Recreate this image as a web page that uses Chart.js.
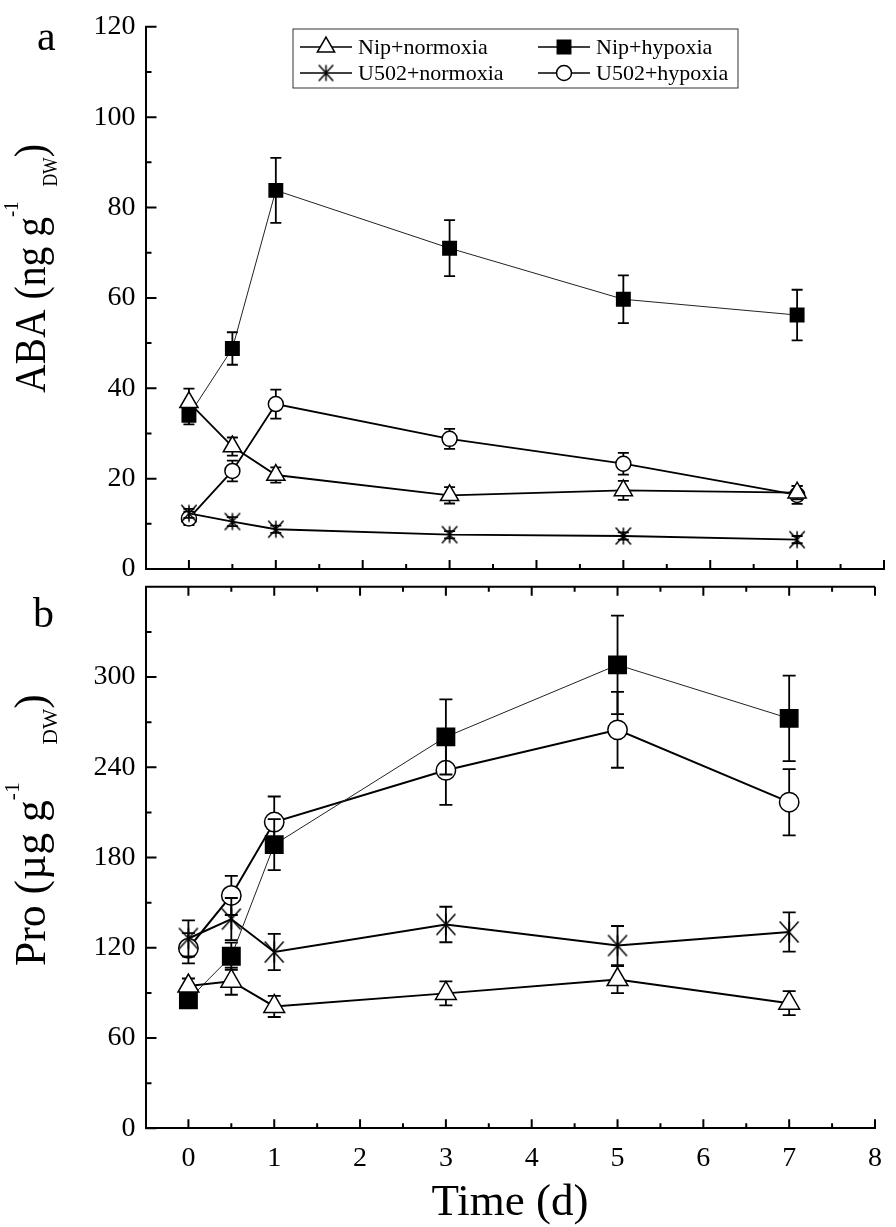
<!DOCTYPE html>
<html>
<head>
<meta charset="utf-8">
<script src="https://cdn.jsdelivr.net/npm/chart.js@4.4.1/dist/chart.umd.min.js"></script>
<style>
  html, body { margin: 0; padding: 0; background: #fff; }
  #wrap { position: relative; width: 896px; height: 1227px; overflow: hidden; }
  canvas { position: absolute; left: 0; }
  #abaChart { top: 0; }
  #proChart { top: 560px; }
</style>
</head>
<body>
<div id="wrap">
  <canvas id="abaChart" width="896" height="600"></canvas>
  <canvas id="proChart" width="896" height="667"></canvas>
</div>
<script>
// sampling days
const days = [0, 0.5, 1, 3, 5, 7];
const seriesNames = ["Nip+normoxia", "Nip+hypoxia", "U502+normoxia", "U502+hypoxia"];

// panel a : ABA (ng g-1 DW), mean and error
const abaNipNorm = [36.9, 27.1, 20.8, 16.3, 17.4, 16.9];
const abaNipNormErr = [3.0, 2.0, 1.7, 1.8, 2.1, 1.5];
const abaNipHyp = [34.0, 48.8, 83.8, 71.0, 59.7, 56.2];
const abaNipHypErr = [2.0, 3.6, 7.2, 6.2, 5.3, 5.6];
const abaU502Norm = [12.3, 10.5, 8.8, 7.6, 7.3, 6.5];
const abaU502NormErr = [1.0, 1.0, 0.8, 0.8, 0.8, 0.8];
const abaU502Hyp = [11.2, 21.7, 36.5, 28.8, 23.3, 16.4];
const abaU502HypErr = [1.5, 2.3, 3.2, 2.2, 2.4, 2.0];

// panel b : Pro (ug g-1 DW)
const proNipNorm = [94.6, 97.8, 81.0, 89.7, 98.9, 83.2];
const proNipNormErr = [5, 9, 7, 8, 9, 8];
const proNipHyp = [85.5, 114.4, 188.6, 260.2, 308.1, 272.5];
const proNipHypErr = [4, 9, 17, 25, 32.7, 28.4];
const proU502Norm = [126.2, 139.1, 117.2, 135.5, 121.5, 130.5];
const proU502NormErr = [12, 14, 12, 11.8, 13, 13];
const proU502Hyp = [119.7, 154.8, 203.6, 238.0, 264.9, 216.8];
const proU502HypErr = [10, 13, 17, 23, 25.2, 22];

// axes
const xTickLabels = [0, 1, 2, 3, 4, 5, 6, 7, 8];
const xMinorTicks = [0.5, 1.5, 2.5, 3.5, 4.5, 5.5, 6.5, 7.5];
const abaTickLabels = [0, 20, 40, 60, 80, 100, 120];
const abaMinorTicks = [10, 30, 50, 70, 90, 110];
const proTickLabels = [0, 60, 120, 180, 240, 300];
const proMinorTicks = [30, 90, 150, 210, 270, 330];

const FONT = "'Liberation Serif', 'Times New Roman', serif";

// 6-arm asterisk marker (no horizontal arm)
function makeAsterisk(half, lw) {
  const size = Math.ceil(half * 2 + lw * 2);
  const c = document.createElement("canvas");
  c.width = size; c.height = size;
  const g = c.getContext("2d");
  const m = size / 2;
  g.strokeStyle = "#000";
  g.lineWidth = lw;
  g.beginPath();
  g.moveTo(m, m - half); g.lineTo(m, m + half);
  g.moveTo(m - half * 0.9, m - half); g.lineTo(m + half * 0.9, m + half);
  g.moveTo(m - half * 0.9, m + half); g.lineTo(m + half * 0.9, m - half);
  g.stroke();
  return c;
}

function makeDataset(label, ys, errs, style, radius, fill, lineWidth) {
  return {
    label,
    data: days.map((d, i) => ({ x: d, y: ys[i] })),
    errors: errs,
    borderColor: lineWidth < 1.5 ? "#222" : "#000",
    borderWidth: lineWidth,
    pointStyle: style,
    pointRadius: radius,
    pointHoverRadius: radius,
    pointBackgroundColor: fill,
    pointBorderColor: "#000",
    pointBorderWidth: 1.5,
    tension: 0,
    fill: false
  };
}

// error bars drawn just before each dataset
const errorBars = {
  id: "errorBars",
  beforeDatasetDraw(chart, args, opts) {
    const ds = chart.data.datasets[args.index];
    if (!ds.errors) return;
    const xs = chart.scales.x, ys = chart.scales.y, ctx = chart.ctx;
    ctx.save();
    ctx.strokeStyle = "#000";
    ctx.lineWidth = opts.width;
    ds.data.forEach((p, i) => {
      const e = ds.errors[i];
      const px = xs.getPixelForValue(p.x);
      const t = ys.getPixelForValue(p.y + e);
      const b = ys.getPixelForValue(p.y - e);
      ctx.beginPath();
      ctx.moveTo(px, t); ctx.lineTo(px, b);
      ctx.moveTo(px - opts.cap, t); ctx.lineTo(px + opts.cap, t);
      ctx.moveTo(px - opts.cap, b); ctx.lineTo(px + opts.cap, b);
      ctx.stroke();
    });
    ctx.restore();
  }
};

// inward tick marks
const innerTicks = {
  id: "innerTicks",
  afterDraw(chart, args, o) {
    const ctx = chart.ctx;
    const { left, top, bottom } = chart.chartArea;
    const xs = chart.scales.x, ys = chart.scales.y;
    ctx.save();
    ctx.strokeStyle = "#000";
    ctx.lineWidth = 2;
    ctx.beginPath();
    o.yMajor.forEach(v => { const p = ys.getPixelForValue(v); ctx.moveTo(left, p); ctx.lineTo(left + 11, p); });
    o.yMinor.forEach(v => { const p = ys.getPixelForValue(v); ctx.moveTo(left, p); ctx.lineTo(left + 6, p); });
    const xt = (vals, len) => vals.forEach(v => {
      const p = xs.getPixelForValue(v);
      ctx.moveTo(p, bottom); ctx.lineTo(p, bottom - len);
      if (o.topTicks) { ctx.moveTo(p, top); ctx.lineTo(p, top + len); }
    });
    xt(xTickLabels, 9);
    xt(xMinorTicks, 5);
    if (o.topTicks) { ctx.moveTo(left, top); ctx.lineTo(xs.right, top); }
    ctx.stroke();
    ctx.restore();
  }
};

// rotated title with super/subscripts; squeeze condenses along the text
function richText(ctx, parts, x, y, squeeze) {
  ctx.save();
  ctx.translate(x, y);
  ctx.rotate(-Math.PI / 2);
  ctx.scale(squeeze, 1);
  ctx.fillStyle = "#000";
  ctx.textAlign = "left";
  ctx.textBaseline = "alphabetic";
  let cx = 0;
  parts.forEach(p => {
    ctx.font = p.size + "px " + FONT;
    ctx.fillText(p.t, cx, p.dy || 0);
    cx += ctx.measureText(p.t).width + (p.gap || 0) / squeeze;
  });
  ctx.restore();
}

const PD = Chart.helpers && Chart.helpers.drawPoint;

// titles, panel letters, legend
const decorations = {
  id: "decorations",
  afterDraw(chart, args, o) {
    const ctx = chart.ctx;
    ctx.save();
    ctx.fillStyle = "#000";
    ctx.font = "42px " + FONT;
    ctx.textAlign = "left";
    ctx.fillText(o.letter, o.letterX, o.letterY);
    richText(ctx, o.yTitle, 45, o.yTitleStart, o.squeeze);
    if (o.xTitle) {
      ctx.fillStyle = "#000";
      ctx.font = "45px " + FONT;
      ctx.textAlign = "center";
      ctx.fillText(o.xTitle, 510, o.xTitleY);
    }
    if (o.legend) {
      const L = o.legend;
      ctx.strokeStyle = "#333";
      ctx.lineWidth = 1;
      ctx.strokeRect(L.x, L.y, L.w, L.h);
      const cols = [300, 538];
      const rows = [47, 73];
      chart.data.datasets.forEach((ds, i) => {
        const cx = cols[i % 2], cy = rows[Math.floor(i / 2)];
        ctx.strokeStyle = "#000";
        ctx.lineWidth = 1.5;
        ctx.beginPath(); ctx.moveTo(cx, cy); ctx.lineTo(cx + 52, cy); ctx.stroke();
        ctx.fillStyle = ds.pointBackgroundColor;
        const st = L.styles[i];
        if (PD) PD(ctx, { pointStyle: st.style, radius: st.r, rotation: 0, borderWidth: 1.5 }, cx + 26, cy);
        ctx.fillStyle = "#000";
        ctx.font = "22px " + FONT;
        ctx.textAlign = "left";
        ctx.textBaseline = "middle";
        ctx.fillText(ds.label, cx + 58, cy + 1);
        ctx.textBaseline = "alphabetic";
      });
    }
    ctx.restore();
  }
};

function xScale(showLabels, height) {
  return {
    type: "linear", min: -0.5, max: 8,
    afterBuildTicks: s => { s.ticks = xTickLabels.map(v => ({ value: v })); },
    afterFit: s => { s.height = height; },
    grid: { drawOnChartArea: false, drawTicks: false },
    border: { display: true, color: "#000", width: 2 },
    ticks: { display: showLabels, padding: 14, color: "#000", font: { family: FONT, size: 28 }, maxRotation: 0 }
  };
}

function yScale(max, labels) {
  return {
    type: "linear", min: 0, max: max,
    afterBuildTicks: s => { s.ticks = labels.map(v => ({ value: v })); },
    afterFit: s => { s.width = 145.5; },
    grid: { drawOnChartArea: false, drawTicks: false },
    border: { display: true, color: "#000", width: 2 },
    ticks: { padding: 10, color: "#000", font: { family: FONT, size: 28 } }
  };
}

const astA = makeAsterisk(8.5, 1.5);
const astB = makeAsterisk(10.5, 1.5);
const astL = makeAsterisk(8, 1.5);

new Chart(document.getElementById("abaChart"), {
  type: "line",
  data: {
    datasets: [
      makeDataset(seriesNames[0], abaNipNorm, abaNipNormErr, "triangle", 10.5, "#fff", 1.8),
      makeDataset(seriesNames[1], abaNipHyp, abaNipHypErr, "rect", 9.5, "#000", 1),
      makeDataset(seriesNames[2], abaU502Norm, abaU502NormErr, astA, 8.5, "#fff", 1.8),
      makeDataset(seriesNames[3], abaU502Hyp, abaU502HypErr, "circle", 7.5, "#fff", 1.8)
    ]
  },
  options: {
    responsive: false,
    animation: false,
    layout: { padding: { left: 0, top: 14.7, right: 9, bottom: 31 } },
    scales: { x: xScale(false, 0), y: yScale(120, abaTickLabels) },
    plugins: {
      legend: { display: false },
      tooltip: { enabled: false },
      errorBars: { width: 1.8, cap: 5.5 },
      innerTicks: { yMajor: abaTickLabels, yMinor: abaMinorTicks, topTicks: false },
      decorations: {
        letter: "a", letterX: 37, letterY: 50,
        yTitleStart: 393, squeeze: 0.88,
        yTitle: [
          { t: "ABA (ng g", size: 45 },
          { t: "-1", size: 21, dy: -27, gap: 15 },
          { t: "DW", size: 20, dy: 12 },
          { t: ")", size: 45 }
        ],
        legend: {
          x: 293, y: 29, w: 445, h: 59,
          styles: [
            { style: "triangle", r: 10 },
            { style: "rect", r: 9.5 },
            { style: astL, r: 8 },
            { style: "circle", r: 7.5 }
          ]
        }
      }
    }
  },
  plugins: [errorBars, innerTicks, decorations]
});

new Chart(document.getElementById("proChart"), {
  type: "line",
  data: {
    datasets: [
      makeDataset(seriesNames[0], proNipNorm, proNipNormErr, "triangle", 12, "#fff", 2),
      makeDataset(seriesNames[1], proNipHyp, proNipHypErr, "rect", 12.3, "#000", 1),
      makeDataset(seriesNames[2], proU502Norm, proU502NormErr, astB, 10.5, "#fff", 2),
      makeDataset(seriesNames[3], proU502Hyp, proU502HypErr, "circle", 9.7, "#fff", 2)
    ]
  },
  options: {
    responsive: false,
    animation: false,
    layout: { padding: { left: 0, top: 9, right: 9, bottom: 8.7 } },
    scales: { x: xScale(true, 90), y: yScale(360, proTickLabels) },
    plugins: {
      legend: { display: false },
      tooltip: { enabled: false },
      errorBars: { width: 1.8, cap: 6.5 },
      innerTicks: { yMajor: proTickLabels.concat([360]), yMinor: proMinorTicks, topTicks: true },
      decorations: {
        letter: "b", letterX: 33, letterY: 67,
        yTitleStart: 966 - 560, squeeze: 0.97,
        yTitle: [
          { t: "Pro (\u00b5g g", size: 45 },
          { t: "-1", size: 22, dy: -26, gap: 38 },
          { t: "DW", size: 22, dy: 12 },
          { t: ")", size: 45 }
        ],
        xTitle: "Time (d)", xTitleY: 655
      }
    }
  },
  plugins: [errorBars, innerTicks, decorations]
});
</script>
</body>
</html>
